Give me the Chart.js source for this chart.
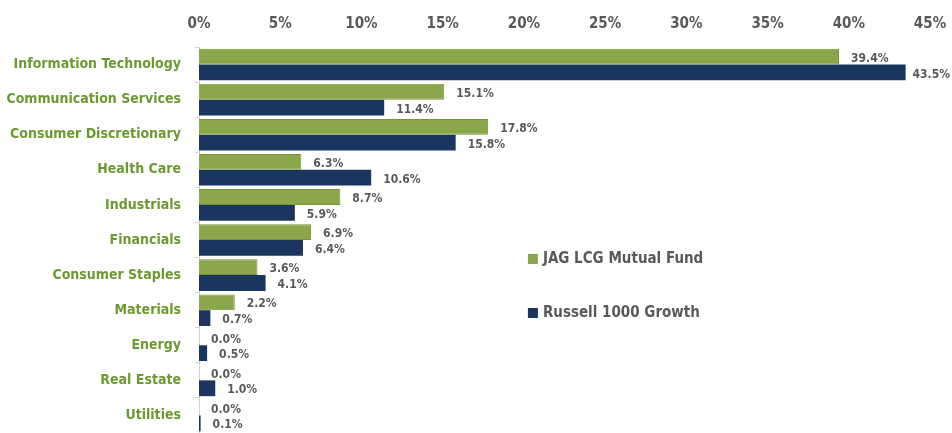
<!DOCTYPE html>
<html>
<head>
<meta charset="utf-8">
<script src="https://cdn.jsdelivr.net/npm/chart.js@4/dist/chart.umd.min.js"></script>
<style>
html,body{margin:0;padding:0;background:#fff;}
#wrap{width:952px;height:433px;position:relative;}
</style>
</head>
<body>
<div id="wrap"><canvas id="c" width="952" height="433"></canvas></div>
<script>
const categories = ["Information Technology","Communication Services","Consumer Discretionary","Health Care","Industrials","Financials","Consumer Staples","Materials","Energy","Real Estate","Utilities"];
const fundValues = [39.4,15.1,17.8,6.3,8.7,6.9,3.6,2.2,0.0,0.0,0.0];
const benchValues = [43.5,11.4,15.8,10.6,5.9,6.4,4.1,0.7,0.5,1.0,0.1];
const seriesNames = ["JAG LCG Mutual Fund","Russell 1000 Growth"];
const xTicks = [0,5,10,15,20,25,30,35,40,45];

const FONT = "'DejaVu Sans Condensed','DejaVu Sans',Arial,sans-serif";
const GREEN = "#8aa84b";
const GREEN_BORDER = "#76933a";
const NAVY = "#1b365e";
const GRAY = "#595959";

const labelPlugin = {
  id: 'valueLabels',
  afterDatasetsDraw(chart) {
    const ctx = chart.ctx;
    ctx.save();
    ctx.font = "bold 12px " + FONT;
    ctx.fillStyle = GRAY;
    ctx.textAlign = 'left';
    ctx.textBaseline = 'middle';
    chart.data.datasets.forEach((ds, di) => {
      const meta = chart.getDatasetMeta(di);
      meta.data.forEach((el, i) => {
        const v = ds.data[i];
        const txt = v.toFixed(1) + '%';
        let x = el.x + 12;
        const w = ctx.measureText(txt).width;
        if (x + w > chart.width - 2) x = chart.width - 2 - w;
        ctx.fillText(txt, x, el.y + 2);
      });
    });
    ctx.restore();
  }
};

const legendPlugin = {
  id: 'customLegend',
  afterDraw(chart) {
    const ctx = chart.ctx;
    ctx.save();
    ctx.font = "bold 15px " + FONT;
    ctx.textBaseline = 'middle';
    ctx.textAlign = 'left';
    const xs = chart.scales.x;
    const x0 = xs.getPixelForValue(20) + 4;
    const ys = [259, 313];
    chart.data.datasets.forEach((ds, i) => {
      ctx.fillStyle = ds.backgroundColor;
      ctx.fillRect(x0, ys[i] - 5, 10, 10);
      ctx.fillStyle = GRAY;
      ctx.fillText(ds.label, x0 + 15, ys[i]);
    });
    ctx.restore();
  }
};

new Chart(document.getElementById('c'), {
  type: 'bar',
  data: {
    labels: categories,
    datasets: [
      {label: seriesNames[0], data: fundValues, backgroundColor: GREEN, borderColor: GREEN_BORDER, borderWidth: 1, categoryPercentage: 0.9, barPercentage: 1.0},
      {label: seriesNames[1], data: benchValues, backgroundColor: NAVY, borderColor: NAVY, borderWidth: 0, categoryPercentage: 0.9, barPercentage: 1.0}
    ]
  },
  options: {
    indexAxis: 'y',
    responsive: false,
    animation: false,
    layout: {padding: {left: 0, right: 22, top: 0, bottom: 0}},
    plugins: {legend: {display: false}, tooltip: {enabled: false}},
    scales: {
      x: {
        position: 'top',
        min: 0, max: 45,
        afterBuildTicks(scale) { scale.ticks = xTicks.map(v => ({value: v})); },
        afterFit(scale) { scale.height = 47; scale.paddingLeft = 0; scale.paddingRight = 0; },
        grid: {display: false, drawTicks: false},
        border: {display: false},
        ticks: {color: GRAY, font: {family: FONT, size: 15, weight: 'bold'}, padding: 14, callback: v => v + '%', maxRotation: 0}
      },
      y: {
        afterFit(scale) { scale.width = 199; scale.paddingTop = 0; scale.paddingBottom = 0; },
        grid: {display: true, drawOnChartArea: false, offset: true, tickLength: 4, color: '#d0d0d0'},
        border: {display: true, color: '#d0d0d0'},
        ticks: {color: '#6b9a30', font: {family: FONT, size: 14, weight: 'bold'}, padding: 14}
      }
    }
  },
  plugins: [labelPlugin, legendPlugin]
});
</script>
</body>
</html>
